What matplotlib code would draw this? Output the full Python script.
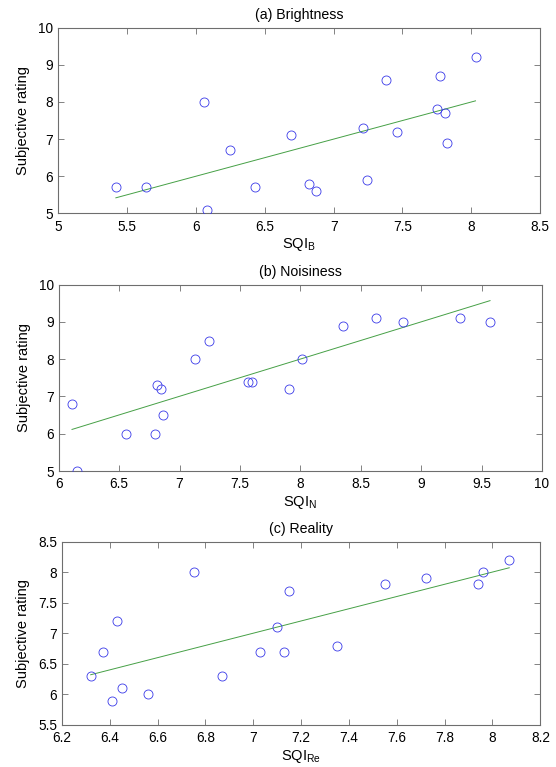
import numpy as np
import matplotlib
matplotlib.use("Agg")
import matplotlib.pyplot as plt

plt.rcParams['font.family'] = ['Liberation Sans', 'DejaVu Sans']

# Panel (a) Brightness
sqi_b = [5.42, 5.64, 6.06, 6.08, 6.25, 6.43, 6.69, 6.82, 6.87, 7.21, 7.24, 7.38, 7.46, 7.75, 7.77, 7.81, 7.82, 8.03]
rate_b = [5.7, 5.7, 8.0, 5.1, 6.7, 5.7, 7.1, 5.8, 5.6, 7.3, 5.9, 8.6, 7.2, 7.8, 8.7, 7.7, 6.9, 9.2]

# Panel (b) Noisiness
sqi_n = [6.11, 6.15, 6.56, 6.80, 6.81, 6.85, 6.86, 7.13, 7.24, 7.57, 7.60, 7.91, 8.01, 8.35, 8.63, 8.85, 9.32, 9.57]
rate_n = [6.8, 5.0, 6.0, 6.0, 7.3, 7.2, 6.5, 8.0, 8.5, 7.4, 7.4, 7.2, 8.0, 8.9, 9.1, 9.0, 9.1, 9.0]

# Panel (c) Reality
sqi_re = [6.32, 6.37, 6.41, 6.43, 6.45, 6.56, 6.75, 6.87, 7.03, 7.10, 7.13, 7.15, 7.35, 7.55, 7.72, 7.94, 7.96, 8.07]
rate_re = [6.3, 6.7, 5.9, 7.2, 6.1, 6.0, 8.0, 6.3, 6.7, 7.1, 6.7, 7.7, 6.8, 7.8, 7.9, 7.8, 8.0, 8.2]

titles = ['(a) Brightness', '(b) Noisiness', '(c) Reality']
xlabels = [r'SQI$_\mathregular{B}$', r'SQI$_\mathregular{N}$', r'SQI$_\mathregular{Re}$']
xlims = [(5, 8.5), (6, 10), (6.2, 8.2)]
ylims = [(5, 10), (5, 10), (5.5, 8.5)]
xticks = [[5, 5.5, 6, 6.5, 7, 7.5, 8, 8.5],
          [6, 6.5, 7, 7.5, 8, 8.5, 9, 9.5, 10],
          [6.2, 6.4, 6.6, 6.8, 7, 7.2, 7.4, 7.6, 7.8, 8, 8.2]]
xticklabels = [['5', '5.5', '6', '6.5', '7', '7.5', '8', '8.5'],
               ['6', '6.5', '7', '7.5', '8', '8.5', '9', '9.5', '10'],
               ['6.2', '6.4', '6.6', '6.8', '7', '7.2', '7.4', '7.6', '7.8', '8', '8.2']]
yticks = [[5, 6, 7, 8, 9, 10], [5, 6, 7, 8, 9, 10], [5.5, 6, 6.5, 7, 7.5, 8, 8.5]]
yticklabels = [['5', '6', '7', '8', '9', '10'], ['5', '6', '7', '8', '9', '10'],
               ['5.5', '6', '6.5', '7', '7.5', '8', '8.5']]

data = [(sqi_b, rate_b), (sqi_n, rate_n), (sqi_re, rate_re)]
positions = [[0.1043, 0.7219, 0.8674, 0.2420],
             [0.1056, 0.3859, 0.8692, 0.2429],
             [0.1115, 0.0548, 0.8603, 0.2390]]

fig = plt.figure(figsize=(5.56, 7.67), dpi=100)
spine_col = '#6e6e6e'
for i in range(3):
    ax = fig.add_axes(positions[i])
    x = np.array(data[i][0])
    y = np.array(data[i][1])
    ax.plot(x, y, 'o', mfc='none', mec='#3a3ae8', mew=0.6, ms=6.5, zorder=3)
    k, b = np.polyfit(x, y, 1)
    xs = np.array([x.min(), x.max()])
    ax.plot(xs, k * xs + b, '-', color='#46a046', lw=0.7, zorder=2)
    ax.set_xlim(*xlims[i])
    ax.set_ylim(*ylims[i])
    ax.set_xticks(xticks[i])
    ax.set_xticklabels(xticklabels[i])
    ax.set_yticks(yticks[i])
    ax.set_yticklabels(yticklabels[i])
    ax.tick_params(direction='in', length=4, width=0.6, colors=spine_col,
                   labelcolor='black', labelsize=9.8, top=True, right=True)
    ax.tick_params(axis='x', pad=4.5)
    ax.tick_params(axis='y', pad=3.5)
    for s in ax.spines.values():
        s.set_color(spine_col)
        s.set_linewidth(0.8)
    ax.set_title(titles[i], fontsize=10.2, pad=6.5)
    ax.set_xlabel(xlabels[i], fontsize=10.5, labelpad=2)
    ax.set_ylabel('Subjective rating', fontsize=10.5, labelpad=6)

fig.savefig('out.png', dpi=100)
